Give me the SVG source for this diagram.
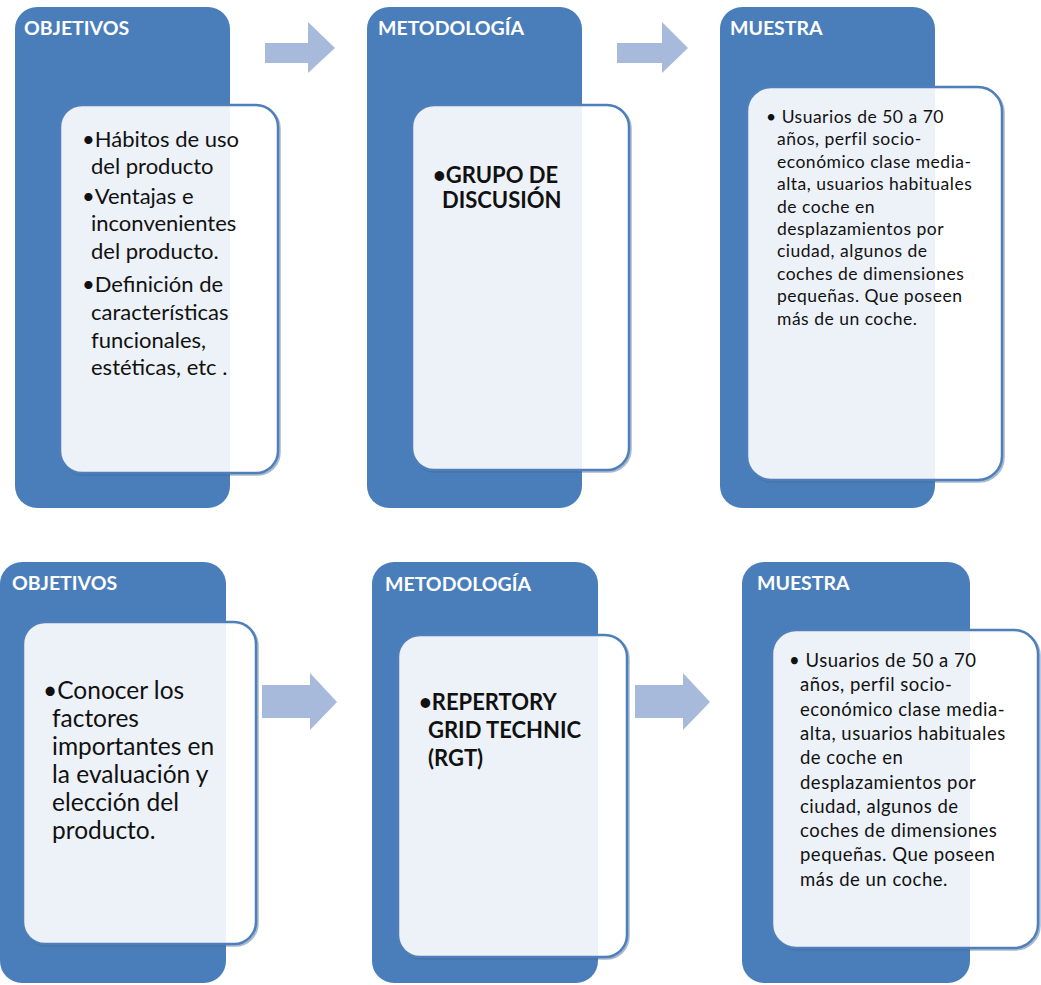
<svg xmlns="http://www.w3.org/2000/svg" width="1041" height="985" viewBox="0 0 1041 985">
  <style>
    .outer { fill: #4a7ebb; }
    .inner { fill: #ffffff; fill-opacity: 0.9; stroke: #4f7fba; stroke-width: 2.5; }
    .shadow { fill: none; stroke: #3f6590; stroke-width: 2.5; opacity: 0.45; }
    .head { font-family: Lato, "Liberation Sans", sans-serif; font-weight: bold; font-size: 19.5px; fill: #ffffff; }
    .big { font-family: Lato, "Liberation Sans", sans-serif; font-size: 22px; fill: #111111; }
    .big2 { font-family: Lato, "Liberation Sans", sans-serif; font-size: 24.5px; fill: #111111; }
    .bold { font-family: Lato, "Liberation Sans", sans-serif; font-weight: bold; font-size: 22px; fill: #111111; }
    .small { font-family: Lato, "Liberation Sans", sans-serif; font-size: 17.5px; letter-spacing: 0.5px; fill: #111111; }
    .small2 { font-family: Lato, "Liberation Sans", sans-serif; font-size: 18.5px; letter-spacing: 0.5px; fill: #111111; }
    .arrow { fill: #a7badb; }
  </style>

  <rect width="1041" height="985" fill="#ffffff"/>

  <!-- connectors: block arrows between stages -->
  <g id="connectors">
    <polygon class="arrow" points="265,43 308,43 308,22 335,48 308,73 308,63 265,63"/>
    <polygon class="arrow" points="617,43 662,43 662,22 688,48 662,73 662,63 617,63"/>
    <polygon class="arrow" points="262,685 310,685 310,673 337,702 310,730 310,718 262,718"/>
    <polygon class="arrow" points="635,685 683,685 683,673 710,702 683,730 683,718 635,718"/>
  </g>

  <!-- top row -->
  <g id="objetivos-1">
    <rect class="outer" x="15" y="7" width="215" height="501" rx="22"/>
    <text class="head" x="24" y="35">OBJETIVOS</text>
    <rect class="shadow" x="61.5" y="106.5" width="218" height="368" rx="22"/>
    <rect class="inner" x="60" y="105" width="218" height="368" rx="22"/>
    <text class="big">
      <tspan x="82" y="147">•Hábitos de uso</tspan>
      <tspan x="91" y="174">del producto</tspan>
      <tspan x="82" y="204">•Ventajas e</tspan>
      <tspan x="91" y="231">inconvenientes</tspan>
      <tspan x="91" y="259">del producto.</tspan>
      <tspan x="82" y="292">•Definición de</tspan>
      <tspan x="91" y="320">características</tspan>
      <tspan x="91" y="348">funcionales,</tspan>
      <tspan x="91" y="375">estéticas, etc .</tspan>
    </text>
  </g>

  <g id="metodologia-1">
    <rect class="outer" x="367" y="7" width="215" height="501" rx="22"/>
    <text class="head" x="378" y="35">METODOLOGÍA</text>
    <rect class="shadow" x="413.5" y="106.5" width="217" height="365" rx="22"/>
    <rect class="inner" x="412" y="105" width="217" height="365" rx="22"/>
    <text class="bold">
      <tspan x="433" y="183">•GRUPO DE</tspan>
      <tspan x="442" y="208">DISCUSIÓN</tspan>
    </text>
  </g>

  <g id="muestra-1">
    <rect class="outer" x="720" y="7" width="215" height="501" rx="22"/>
    <text class="head" x="730" y="35">MUESTRA</text>
    <rect class="shadow" x="748.5" y="88.5" width="255" height="393" rx="24"/>
    <rect class="inner" x="747" y="87" width="255" height="393" rx="24"/>
    <text class="small">
      <tspan x="766" y="123">• Usuarios de 50 a 70</tspan>
      <tspan x="777" y="145.4">años, perfil socio-</tspan>
      <tspan x="777" y="167.8">económico clase media-</tspan>
      <tspan x="777" y="190.2">alta, usuarios habituales</tspan>
      <tspan x="777" y="212.6">de coche en</tspan>
      <tspan x="777" y="235">desplazamientos por</tspan>
      <tspan x="777" y="257.4">ciudad, algunos de</tspan>
      <tspan x="777" y="279.8">coches de dimensiones</tspan>
      <tspan x="777" y="302.2">pequeñas. Que poseen</tspan>
      <tspan x="777" y="324.6">más de un coche.</tspan>
    </text>
  </g>

  <!-- bottom row -->
  <g id="objetivos-2">
    <rect class="outer" x="0" y="562" width="226" height="421" rx="22"/>
    <text class="head" x="12" y="590">OBJETIVOS</text>
    <rect class="shadow" x="24.5" y="623.5" width="233" height="322" rx="22"/>
    <rect class="inner" x="23" y="622" width="233" height="322" rx="22"/>
    <text class="big2">
      <tspan x="43" y="699">•Conocer los</tspan>
      <tspan x="52" y="727">factores</tspan>
      <tspan x="52" y="755">importantes en</tspan>
      <tspan x="52" y="783">la evaluación y</tspan>
      <tspan x="52" y="811">elección del</tspan>
      <tspan x="52" y="839">producto.</tspan>
    </text>
  </g>

  <g id="metodologia-2">
    <rect class="outer" x="372" y="562" width="226" height="421" rx="22"/>
    <text class="head" x="385" y="591">METODOLOGÍA</text>
    <rect class="shadow" x="399.5" y="636.5" width="229" height="322" rx="22"/>
    <rect class="inner" x="398" y="635" width="229" height="322" rx="22"/>
    <text class="bold">
      <tspan x="419" y="710">•REPERTORY</tspan>
      <tspan x="428" y="738">GRID TECHNIC</tspan>
      <tspan x="428" y="766">(RGT)</tspan>
    </text>
  </g>

  <g id="muestra-2">
    <rect class="outer" x="742" y="562" width="228" height="421" rx="22"/>
    <text class="head" x="757" y="590">MUESTRA</text>
    <rect class="shadow" x="773.5" y="631.5" width="266" height="318" rx="24"/>
    <rect class="inner" x="772" y="630" width="266" height="318" rx="24"/>
    <text class="small2">
      <tspan x="789" y="667">• Usuarios de 50 a 70</tspan>
      <tspan x="800" y="691.3">años, perfil socio-</tspan>
      <tspan x="800" y="715.6">económico clase media-</tspan>
      <tspan x="800" y="739.9">alta, usuarios habituales</tspan>
      <tspan x="800" y="764.2">de coche en</tspan>
      <tspan x="800" y="788.5">desplazamientos por</tspan>
      <tspan x="800" y="812.8">ciudad, algunos de</tspan>
      <tspan x="800" y="837.1">coches de dimensiones</tspan>
      <tspan x="800" y="861.4">pequeñas. Que poseen</tspan>
      <tspan x="800" y="885.7">más de un coche.</tspan>
    </text>
  </g>
</svg>
